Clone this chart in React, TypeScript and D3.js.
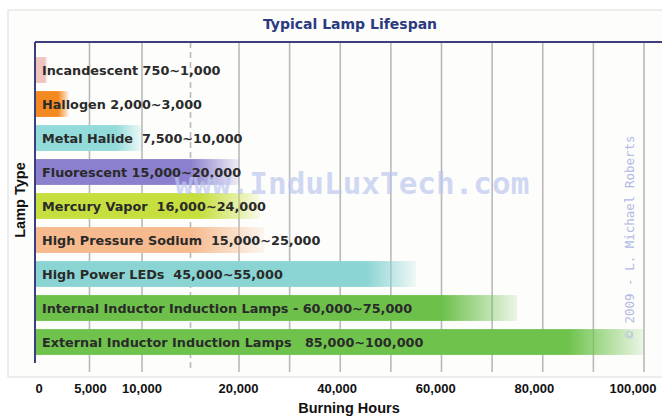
import React from 'react';
import * as d3 from 'd3';

const lampTypes = [
  'Incandescent',
  'Hallogen',
  'Metal Halide',
  'Fluorescent',
  'Mercury Vapor',
  'High Pressure Sodium',
  'High Power LEDs',
  'Internal Inductor Induction Lamps',
  'External Inductor Induction Lamps',
];
const lowHours = [750, 2000, 7500, 15000, 16000, 15000, 45000, 60000, 85000];
const highHours = [1000, 3000, 10000, 20000, 24000, 25000, 55000, 75000, 100000];
const barLabels = [
  'Incandescent 750~1,000',
  'Hallogen 2,000~3,000',
  'Metal Halide  7,500~10,000',
  'Fluorescent 15,000~20,000',
  'Mercury Vapor  16,000~24,000',
  'High Pressure Sodium  15,000~25,000',
  'High Power LEDs  45,000~55,000',
  'Internal Inductor Induction Lamps - 60,000~75,000',
  'External Inductor Induction Lamps   85,000~100,000',
];
const barColors = ['#f0c4be', '#f4891f', '#93dada', '#8b80cd', '#c6df3e', '#f6ba8e', '#8ad4d4', '#6dc04a', '#6fc34d'];
const tickValues = [0, 5000, 10000, 20000, 40000, 60000, 80000, 100000];
const gridValues = [5000, 10000, 15000, 20000, 30000, 40000, 50000, 60000, 70000, 80000, 90000, 100000];

const W = 662;
const H = 418;
const left = 35;
const top = 42;
const bottom = 363;

const App: React.FC = () => {
  // the original axis is piecewise: the first 20,000 hours are stretched
  const x = d3.scaleLinear()
    .domain([0, 10000, 20000, 100000])
    .range([37, 142, 239, 644]);
  // tick labels in the original sit a little left of their grid lines
  const xLabel = x.copy().range([39, 142, 238.5, 633]);

  const y = d3.scaleBand<string>()
    .domain(lampTypes)
    .range([53, 359])
    .paddingInner(0.24)
    .paddingOuter(0.12);

  const fmt = d3.format(',');

  return (
    <svg width={W} height={H} style={{ position: 'absolute', left: 0, top: 0, background: '#fff' }}>
      <defs>
        {lampTypes.map((t, i) => (
          <linearGradient key={t} id={'fade' + i} gradientUnits="userSpaceOnUse"
            x1={x(lowHours[i])} x2={x(highHours[i])} y1={0} y2={0}>
            <stop offset="0" stopColor={barColors[i]} stopOpacity={1} />
            <stop offset="1" stopColor={barColors[i]} stopOpacity={0.12} />
          </linearGradient>
        ))}
      </defs>

      {/* outer panel */}
      <rect x={8} y={10} width={W} height={367} fill="#fdfdfb" stroke="#dcdcdc" />

      <text x={350} y={29} textAnchor="middle" fill="#2a3a80"
        style={{ fontFamily: 'DejaVu Sans', fontWeight: 'bold', fontSize: 14 }}>
        Typical Lamp Lifespan
      </text>

      {/* grid */}
      {gridValues.map(v => (
        <line key={v} x1={x(v)} x2={x(v)} y1={top} y2={372}
          stroke="#b9b9b9" strokeWidth={1.6}
          strokeDasharray={v === 15000 ? '6,4' : undefined} />
      ))}

      {/* bars */}
      {lampTypes.map((t, i) => (
        <rect key={t} x={left + 1} y={y(t)!} width={x(highHours[i]) - left - 1}
          height={y.bandwidth()} fill={`url(#fade${i})`} />
      ))}

      {lampTypes.map((t, i) => (
        <text key={t} x={42} y={y(t)! + y.bandwidth() / 2 + 4.5} fill="#2a2a2a"
          style={{ fontFamily: 'DejaVu Sans', fontWeight: 'bold', fontSize: 12.8, whiteSpace: 'pre' }}>
          {barLabels[i]}
        </text>
      ))}

      {/* frame lines */}
      <line x1={left} x2={W} y1={top} y2={top} stroke="#3d3f7c" strokeWidth={2} />
      <line x1={left} x2={left} y1={top} y2={bottom} stroke="#3d3f7c" strokeWidth={2} />

      {/* watermarks */}
      <text x={352} y={194} textAnchor="middle" fill="#bcc6f0" fillOpacity={0.7}
        style={{ fontFamily: 'DejaVu Sans Mono', fontWeight: 'bold', fontSize: 31 }}>
        www.InduLuxTech.com
      </text>
      <text transform="translate(634,237) rotate(-90)" textAnchor="middle" fill="#b0bbe4"
        style={{ fontFamily: 'DejaVu Sans Mono', fontSize: 12.5 }}>
        © 2009 - L. Michael Roberts
      </text>

      {/* axes text */}
      {tickValues.map(v => (
        <text key={v} x={xLabel(v)} y={393} textAnchor="middle" fill="#111"
          style={{ fontFamily: 'Liberation Sans', fontWeight: 'bold', fontSize: 13 }}>
          {fmt(v)}
        </text>
      ))}
      <text x={349} y={413} textAnchor="middle" fill="#111"
        style={{ fontFamily: 'Liberation Sans', fontWeight: 'bold', fontSize: 14.5 }}>
        Burning Hours
      </text>
      <text transform="translate(25,200) rotate(-90)" textAnchor="middle" fill="#111"
        style={{ fontFamily: 'Liberation Sans', fontWeight: 'bold', fontSize: 14.5 }}>
        Lamp Type
      </text>
    </svg>
  );
};

export default App;
